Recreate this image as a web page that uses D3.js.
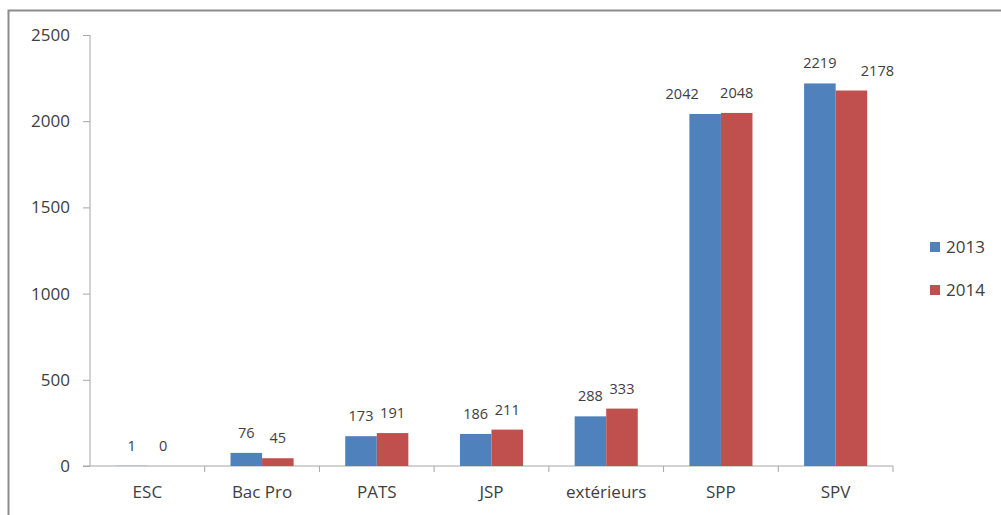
<!DOCTYPE html>
<html>
<head>
<meta charset="utf-8">
<script src="https://cdn.jsdelivr.net/npm/d3@7"></script>
<style>
  body { margin: 0; background: #fff; }
  svg text { font-family: "Open Sans", Lato, sans-serif; fill: #404040; }
</style>
</head>
<body>
<svg id="chart" width="1001" height="515"></svg>
<script>
// data
const categories = ['ESC', 'Bac Pro', 'PATS', 'JSP', 'extérieurs', 'SPP', 'SPV'];
const years = ['2013', '2014'];
const values2013 = [1, 76, 173, 186, 288, 2042, 2219];
const values2014 = [0, 45, 191, 211, 333, 2048, 2178];
const yTicks = [0, 500, 1000, 1500, 2000, 2500];

const colors = {'2013': '#4F81BD', '2014': '#C0504D'};

// a few labels were moved sideways by hand in the original
const labelNudge = {'SPP-2013': -23, 'SPV-2014': 26};

const svg = d3.select('#chart');

// outer frame (only top and left edges are visible in the picture)
svg.append('rect')
  .attr('x', 8.5).attr('y', 10.5)
  .attr('width', 1100).attr('height', 600)
  .attr('fill', 'none')
  .attr('stroke', '#8c8c8c')
  .attr('stroke-width', 2);

let x0 = d3.scaleBand()
  .domain(categories)
  .range([90, 893]);

let bw = x0.bandwidth();
let x1 = d3.scaleBand()
  .domain(years)
  .range([bw * 0.225, bw * 0.775]);

let y = d3.scaleLinear()
  .domain([0, 2500])
  .range([466, 35]);

// y axis
let yAxis = svg.append('g')
  .attr('transform', 'translate(90,0)')
  .call(d3.axisLeft(y).tickValues(yTicks).tickSize(7).tickPadding(13).tickFormat(d3.format('d')));
yAxis.select('.domain').attr('stroke', '#a6a6a6').attr('d', 'M0,35V466');
yAxis.selectAll('.tick line').attr('stroke', '#a6a6a6');
yAxis.selectAll('.tick text').style('font-size', '17px').attr('fill', '#404040');

// x axis
let xAxis = svg.append('g')
  .attr('transform', 'translate(0,466)');
xAxis.append('line')
  .attr('x1', 83).attr('x2', 893)
  .attr('stroke', '#a6a6a6');
xAxis.selectAll('.xtick')
  .data(categories)
  .join('line')
  .attr('x1', d => x0(d) + bw).attr('x2', d => x0(d) + bw)
  .attr('y1', 0).attr('y2', 6)
  .attr('stroke', '#a6a6a6');
xAxis.selectAll('.xlab')
  .data(categories)
  .join('text')
  .attr('x', d => x0(d) + bw / 2)
  .attr('y', 32)
  .attr('text-anchor', 'middle')
  .style('font-size', '17px')
  .text(d => d);

// bars
let rows = categories.map((c, i) => ({
  cat: c,
  vals: [{year: '2013', v: values2013[i]}, {year: '2014', v: values2014[i]}]
}));

let groups = svg.selectAll('.grp')
  .data(rows)
  .join('g')
  .attr('transform', d => `translate(${x0(d.cat)},0)`);

groups.selectAll('rect')
  .data(d => d.vals)
  .join('rect')
  .attr('x', d => x1(d.year))
  .attr('y', d => y(d.v))
  .attr('width', x1.bandwidth())
  .attr('height', d => y(0) - y(d.v))
  .attr('fill', d => colors[d.year]);

groups.selectAll('text')
  .data(d => d.vals.map(v => ({...v, cat: d.cat})))
  .join('text')
  .attr('x', d => x1(d.year) + x1.bandwidth() / 2 + (labelNudge[d.cat + '-' + d.year] || 0))
  .attr('y', d => y(d.v) - 15)
  .attr('text-anchor', 'middle')
  .style('font-size', '14.5px')
  .text(d => d.v);

// legend
let legend = svg.append('g')
  .attr('transform', 'translate(930,247)');
legend.selectAll('g')
  .data(years)
  .join('g')
  .attr('transform', (d, i) => `translate(0,${i * 43})`)
  .each(function(d) {
    let g = d3.select(this);
    g.append('rect')
      .attr('x', 0).attr('y', -5)
      .attr('width', 10).attr('height', 10)
      .attr('fill', colors[d]);
    g.append('text')
      .attr('x', 16).attr('y', 6)
      .style('font-size', '17px')
      .text(d);
  });
</script>
</body>
</html>
